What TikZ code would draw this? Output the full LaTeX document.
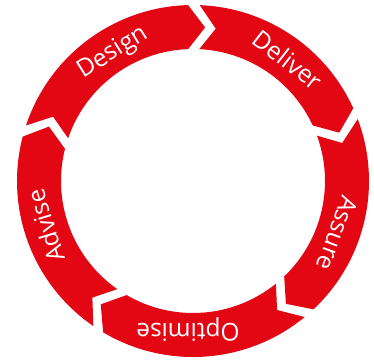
\documentclass[tikz,border=0pt]{standalone}
\usepackage{fontspec}
\setmainfont{Open Sans}
\definecolor{ringred}{RGB}{227,6,19}
\newcommand\ringseg[2]{%
  \fill[ringred] ({#1-1.9}:176) arc[start angle={#1-1.9}, end angle={#2+1.9}, radius=176]
    -- ({#2+2.0-6.2}:154) -- ({#2+2.4}:132)
    arc[start angle={#2+2.4}, end angle={#1-2.4}, radius=132]
    -- ({#1-2.0-6.2}:154) -- cycle;}
\begin{document}
\begin{tikzpicture}[x=1pt,y=1pt,
  lbl/.style={text=white, anchor=base, inner sep=0pt, font=\fontsize{24.5}{24.5}\selectfont}]
\useasboundingbox (-193,-179) rectangle (181,181);
\ringseg{163.5}{89.7}
\ringseg{89.7}{22.5}
\ringseg{22.5}{-48.7}
\ringseg{-48.7}{-122.6}
\ringseg{-122.6}{-196.5}
\node[lbl, rotate=32] (design) at (122:145) {Design};
\node[lbl, rotate=-38] (deliver) at (52:145) {Deliver};
\node[lbl, rotate=-110] (assure) at (-20:145) {Assure};
\node[lbl, rotate=180] (optimise) at (-92:143) {Optimise};
\node[lbl, rotate=107] (advise) at (197:145) {Advise};
\end{tikzpicture}
\end{document}
